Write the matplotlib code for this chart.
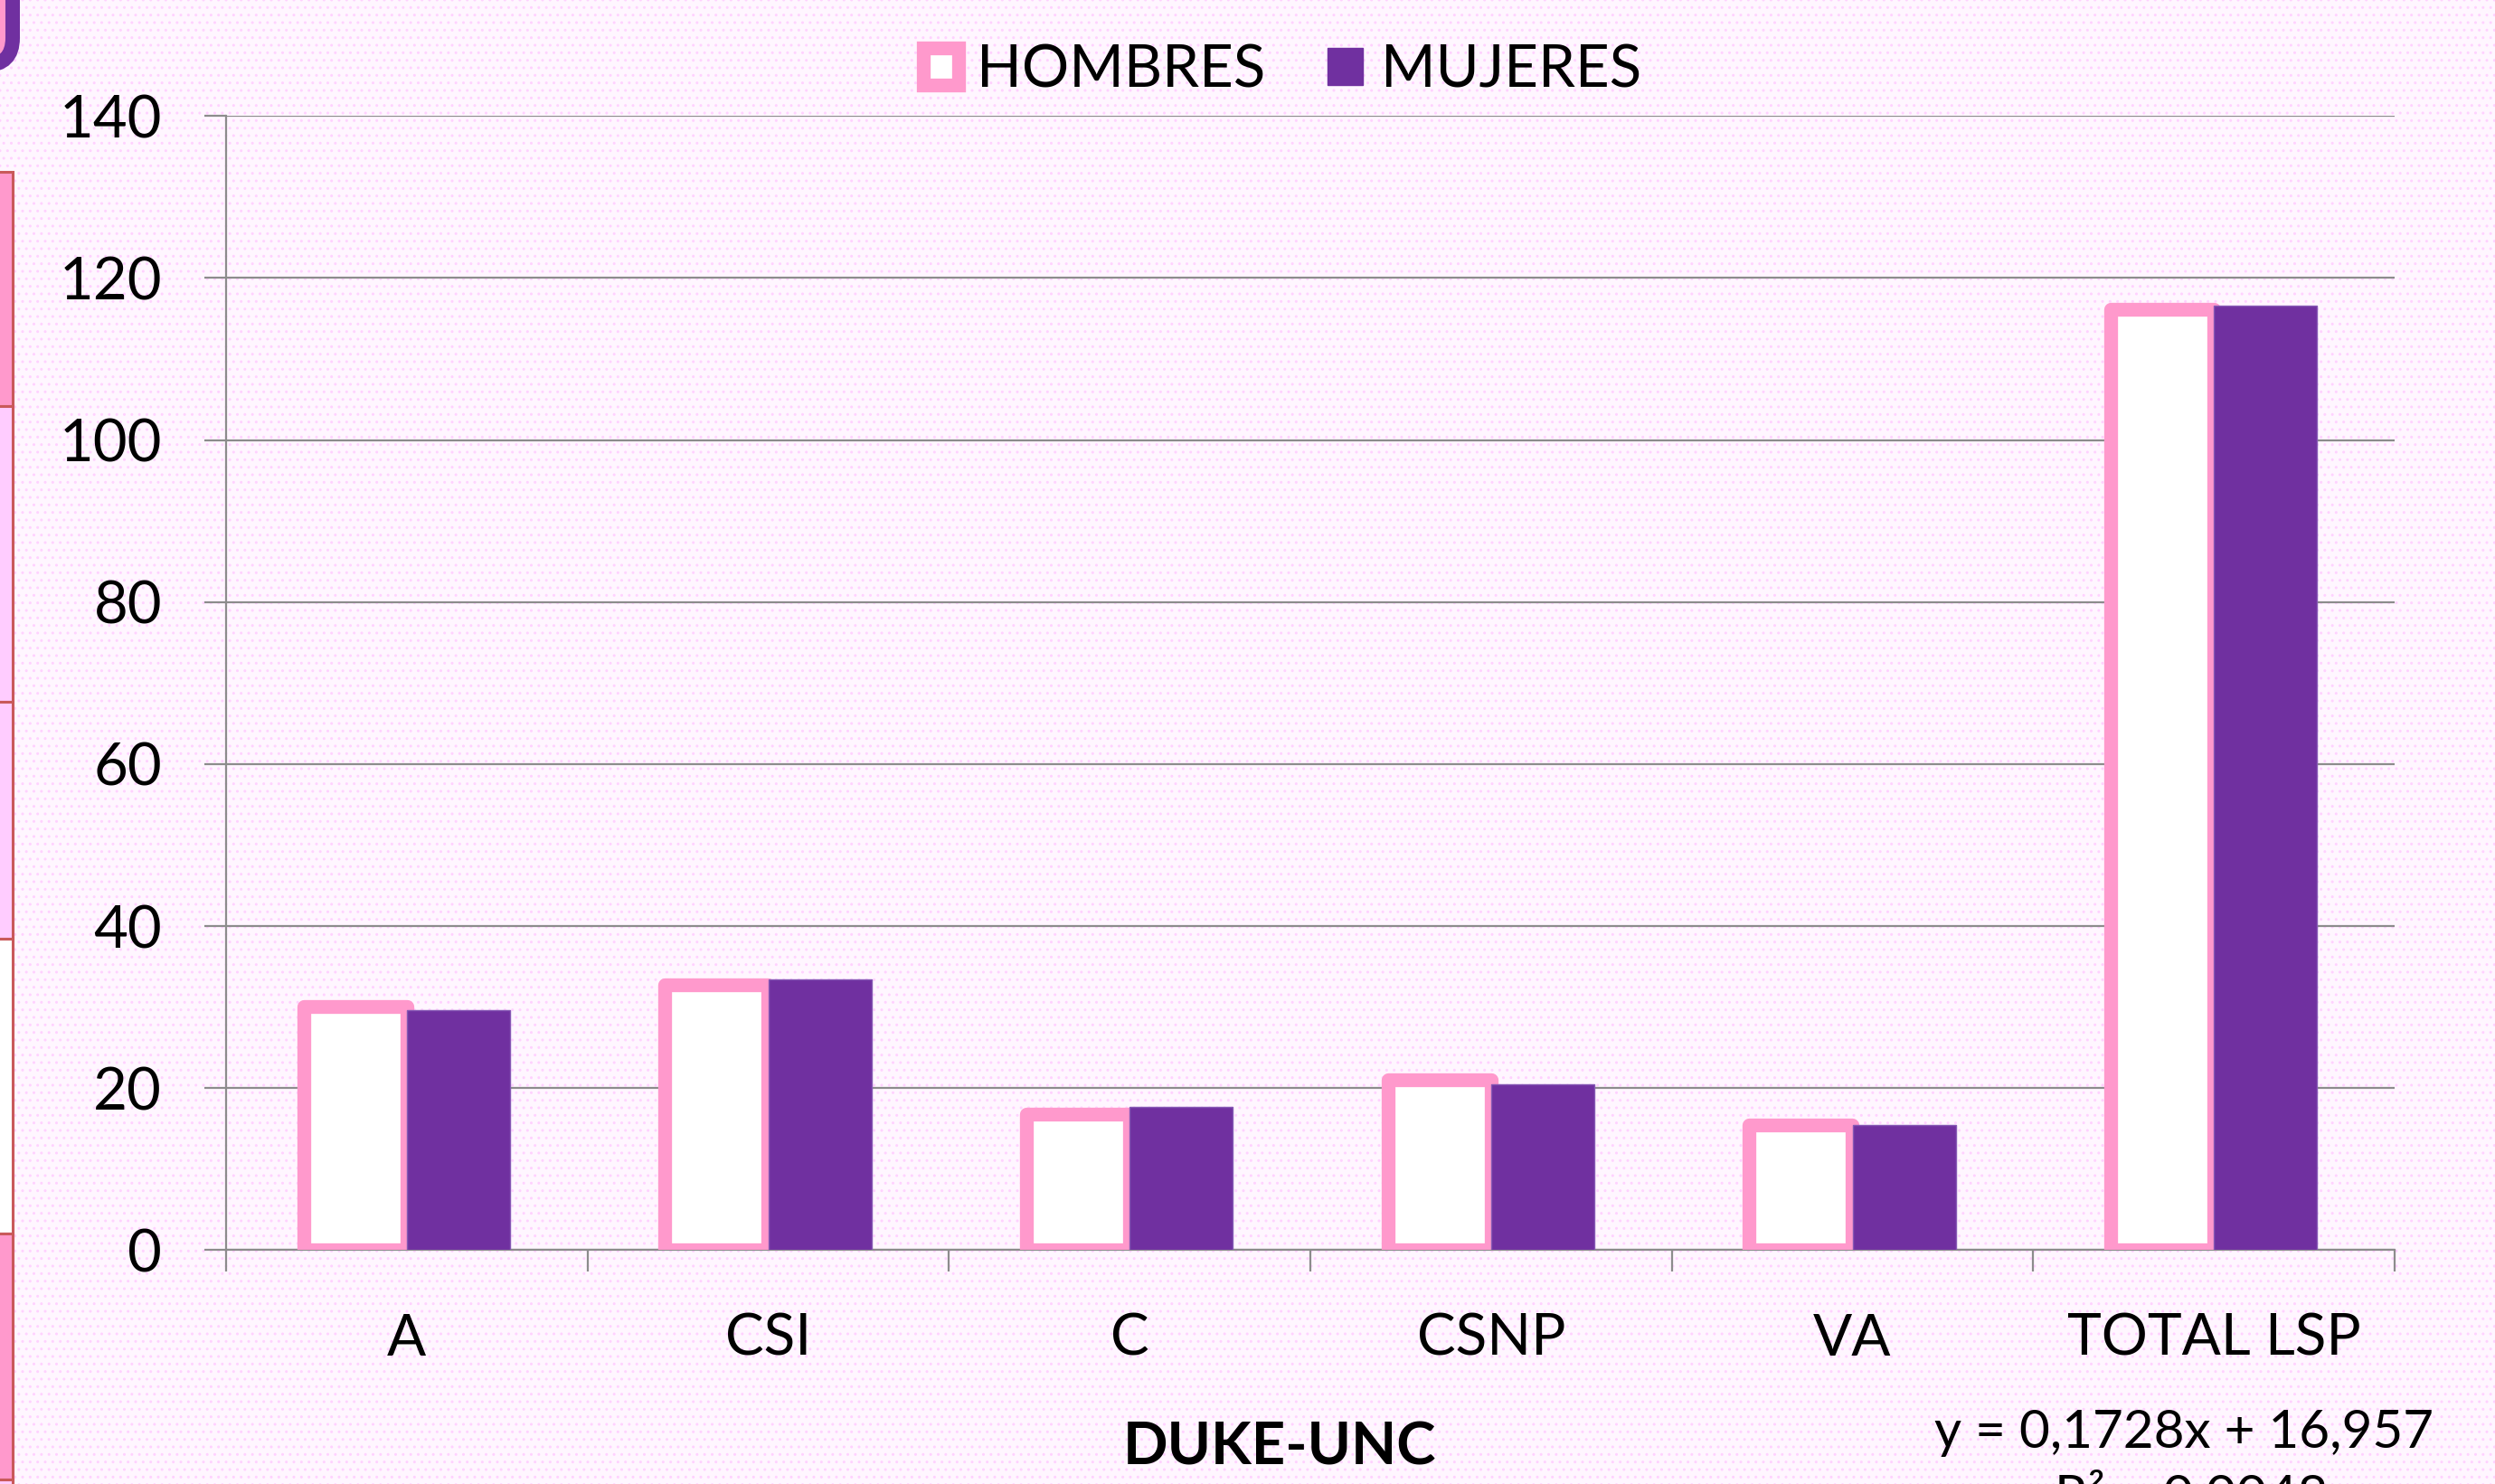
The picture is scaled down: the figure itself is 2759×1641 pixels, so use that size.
import matplotlib
matplotlib.use('Agg')
import matplotlib.pyplot as plt
from matplotlib.patches import Rectangle, FancyBboxPatch, Patch
from matplotlib.transforms import IdentityTransform
import numpy as np

categories = ['A', 'CSI', 'C', 'CSNP', 'VA', 'TOTAL LSP']
hombres = [30.1, 32.8, 16.8, 21.0, 15.4, 116.1]
mujeres = [29.6, 33.4, 17.7, 20.5, 15.4, 116.6]
y_ticks = [0, 20, 40, 60, 80, 100, 120, 140]
series_names = ['HOMBRES', 'MUJERES']
x_title = 'DUKE-UNC'
trend_eq = 'y = 0,1728x + 16,957'
trend_r2 = 'R² = 0,0048'

PINK = '#ff99cc'
PURPLE = '#7030a0'
GRID = '#8c8c8c'
FONT = ['Lato', 'DejaVu Sans']


def main():
    W, H = 2759, 1641
    plt.rcParams['font.family'] = FONT
    fig = plt.figure(figsize=(W / 100, H / 100), dpi=100)
    fig.patch.set_facecolor('#fff6ff')
    # textured slide background
    fig.patches.append(Rectangle((0, 0), 1, 1, transform=fig.transFigure,
                                 facecolor='none', edgecolor='#ffd2ff',
                                 hatch='..', lw=0, zorder=-10))
    drawDecor(fig, W, H)

    ax = fig.add_axes([250 / W, (H - 1382.3) / H, (2648 - 250) / W, (1382.3 - 128.3) / H])
    ax.set_facecolor('none')
    x = np.arange(len(categories))
    w = 0.2857
    ax.bar(x - w / 2, hombres, w, facecolor='white', edgecolor=PINK,
           linewidth=11, joinstyle='round', zorder=3)
    ax.bar(x + w / 2, mujeres, w, facecolor=PURPLE, edgecolor='#8659b5',
           linewidth=1, zorder=4)

    ax.set_xlim(-0.5, len(categories) - 0.5)
    ax.set_ylim(0, 140)
    ax.set_yticks(y_ticks)
    ax.yaxis.grid(True, color=GRID, lw=1.6)
    ax.set_axisbelow(True)
    for s in ['top', 'right']:
        ax.spines[s].set_visible(False)
    for s in ['left', 'bottom']:
        ax.spines[s].set_color(GRID)
        ax.spines[s].set_linewidth(1.6)

    ax.set_xticks(np.arange(-0.5, len(categories), 1.0))
    ax.set_xticklabels([])
    ax.set_xticks(x, minor=True)
    ax.set_xticklabels(categories, minor=True)
    ax.tick_params(axis='x', which='major', length=17, width=1.6, color=GRID, direction='out')
    ax.tick_params(axis='x', which='minor', length=0, pad=50, labelsize=46)
    ax.tick_params(axis='y', length=17, width=1.6, color=GRID, pad=34, labelsize=47)

    handles = [Patch(facecolor='white', edgecolor=PINK, lw=11, joinstyle='round'),
               Patch(facecolor=PURPLE, edgecolor=PURPLE)]
    fig.legend(handles, series_names, loc='center', bbox_to_anchor=(1418 / W, 1 - 78 / H),
               ncol=2, frameon=False, fontsize=47, handlelength=0.6, handleheight=0.6,
               handletextpad=0.3, columnspacing=1.05)

    fig.text(1415 / W, 1 - 1601 / H, x_title, ha='center', va='center',
             fontsize=47, fontweight='bold')
    fig.text(2415 / W, 1 - 1601 / H, trend_eq, ha='center', va='baseline', fontsize=42)
    fig.text(2272 / W, 1 - 1672 / H, trend_r2, ha='left', va='baseline', fontsize=42)

    fig.savefig('out.png', dpi=100, facecolor=fig.get_facecolor())
    return


def drawDecor(fig, W, H):
    tr = IdentityTransform()
    # corner of a rounded box at top left
    fig.patches.append(FancyBboxPatch((-200, H - 72), 214, 300,
                                      boxstyle='round,pad=0,rounding_size=30',
                                      facecolor=PINK, edgecolor=PURPLE, lw=11.5,
                                      transform=tr, zorder=-5))
    # strip of boxes on the left edge
    edges = [190, 449, 776, 1038, 1364, 1636, 1900]
    colors = [PINK, '#ffccff', '#ffccff', 'white', PINK, '#ffccff']
    for i, c in enumerate(colors):
        y0, y1 = edges[i], edges[i + 1]
        fig.patches.append(Rectangle((-20, H - y1), 34, y1 - y0, facecolor=c,
                                     edgecolor='#c9595a', lw=2.2, transform=tr, zorder=-5))
    return


if __name__ == '__main__':
    main()
